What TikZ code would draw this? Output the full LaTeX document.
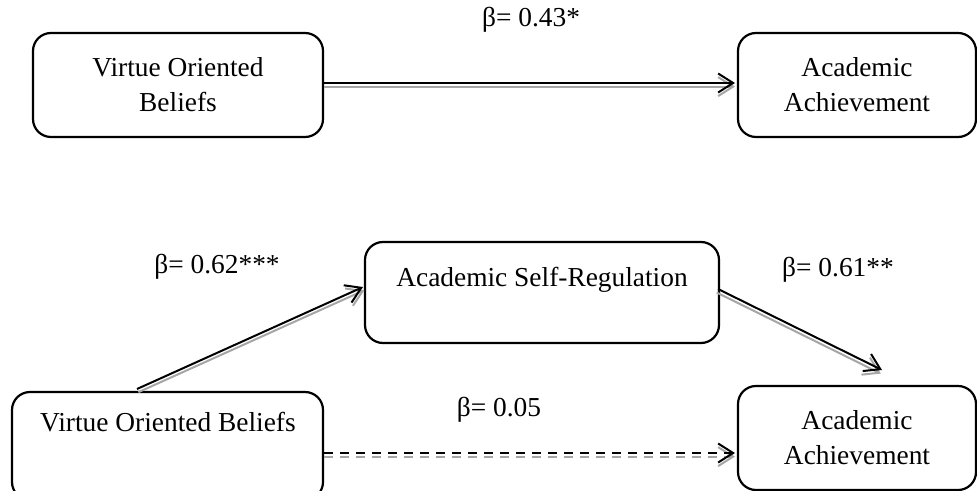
\documentclass[tikz,border=0pt]{standalone}
\usepackage{fontspec}
\setmainfont{Liberation Serif}
\usetikzlibrary{arrows.meta,calc}
\begin{document}
\begin{tikzpicture}[x=0.5pt,y=-0.5pt,
  box/.style={draw, line width=1.1pt, rounded corners=9pt, inner sep=0pt, align=center, font=\fontsize{13.7}{17.5}\selectfont},
  lbl/.style={inner sep=0pt, font=\fontsize{13.7}{17.5}\selectfont},
  arr/.style={line width=1pt, -{Straight Barb[length=7.5pt,width=9.5pt]}},
  shade/.style={arr, draw=black!35},
  dsh/.style={dash pattern=on 4.5pt off 3.5pt}]
\useasboundingbox (0,0) rectangle (977,491);
% boxes
\node[box, minimum width=145pt, minimum height=52pt] (vob1) at (178,85) {Virtue Oriented\\Beliefs};
\node[box, minimum width=119pt, minimum height=52pt] (aa1) at (857,85) {Academic\\Achievement};
\node[box, minimum width=177pt, minimum height=50.5pt] (asr) at (542,292.5) {};
\node[lbl] (asrt) at (542,280) {Academic Self-Regulation};
\node[box, minimum width=155.5pt, minimum height=54pt] (vob2) at (167.5,446) {};
\node[lbl] (vob2t) at (168,422) {Virtue Oriented Beliefs};
\node[box, minimum width=119pt, minimum height=52pt] (aa2) at (857,438) {Academic\\Achievement};
% coordinates
\coordinate (s1) at (324,83);
\coordinate (e1) at (735,83);
\coordinate (s2) at (137,389);
\coordinate (e2) at (363,287);
\coordinate (s3) at (718,289);
\coordinate (e3) at (882,370);
\coordinate (d1) at (324,453);
\coordinate (d2) at (735,453);
% arrows (grey shadow first, then black)
\draw[shade] ([yshift=-1.8pt]s1) -- ([yshift=-1.8pt]e1);
\draw[arr] (s1) -- (e1);
\draw[shade] ([xshift=0.7pt,yshift=-1.6pt]s2) -- ([xshift=0.7pt,yshift=-1.6pt]e2);
\draw[arr] (s2) -- (e2);
\draw[shade] ([xshift=-0.6pt,yshift=-1.8pt]s3) -- ([xshift=-0.6pt,yshift=-1.8pt]e3);
\draw[arr] (s3) -- (e3);
\draw[shade, dsh] ([yshift=-1.8pt]d1) -- ([yshift=-1.8pt]d2);
\draw[arr, dsh] (d1) -- (d2);
% labels
\node[lbl] (b1) at (531,20) {β= 0.43*};
\node[lbl] (b2) at (217,267) {β= 0.62***};
\node[lbl] (b3) at (838,270) {β= 0.61**};
\node[lbl] (b4) at (499,410) {β= 0.05};
\end{tikzpicture}
\end{document}
